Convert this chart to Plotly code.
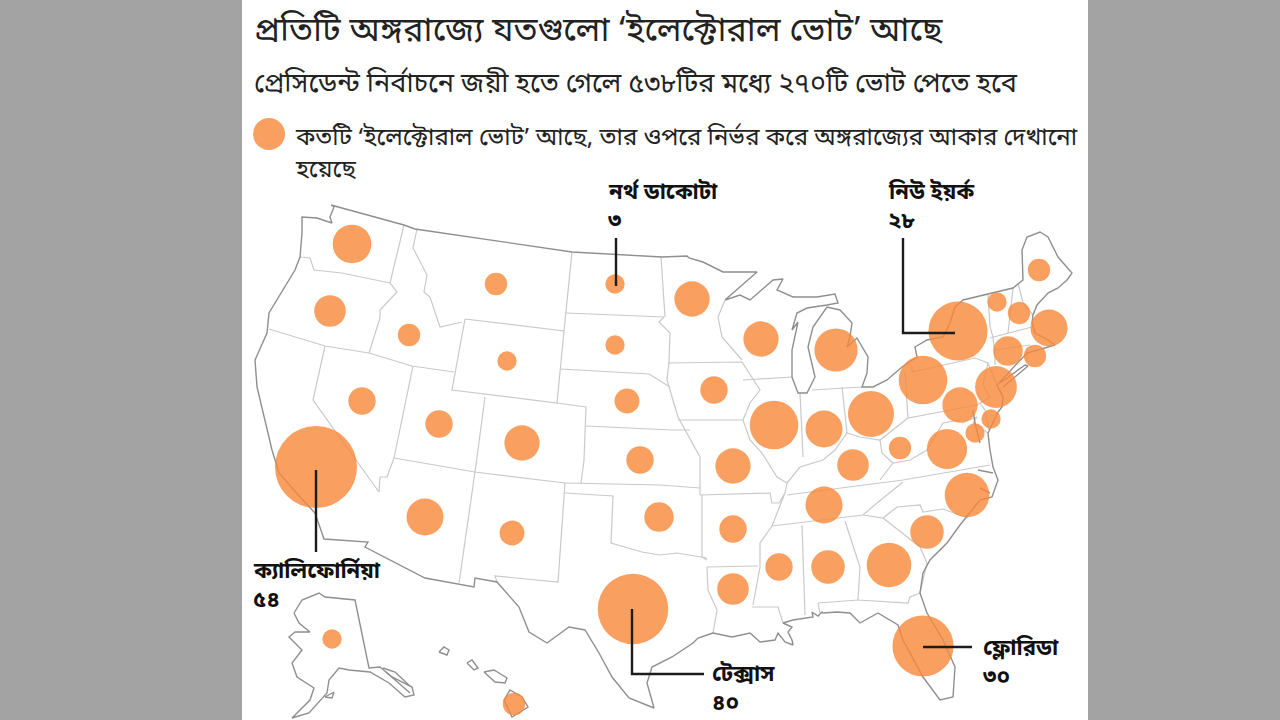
import plotly.graph_objects as go

title = "প্রতিটি অঙ্গরাজ্যে যতগুলো ‘ইলেক্টোরাল ভোট’ আছে"
subtitle = "প্রেসিডেন্ট নির্বাচনে জয়ী হতে গেলে ৫৩৮টির মধ্যে ২৭০টি ভোট পেতে হবে"
legend_text = "কতটি ‘ইলেক্টোরাল ভোট’ আছে, তার ওপরে নির্ভর করে অঙ্গরাজ্যের আকার দেখানো"
legend_text2 = "হয়েছে"

# state, electoral votes, centre of the circle on the page
states = ["WA", "OR", "ID", "MT", "WY", "ND", "SD", "MN", "WI", "MI", "IA", "NE", "NV", "CA", "UT", "CO", "KS",
          "AZ", "NM", "OK", "TX", "MO", "AR", "LA", "IL", "IN", "OH", "KY", "WV", "TN", "VA", "NC", "SC", "GA",
          "AL", "MS", "FL", "PA", "NY", "ME", "VT", "NH", "MA", "CT", "RI", "NJ", "DE", "MD", "DC", "HI", "AK"]
votes = [12, 8, 4, 4, 3, 3, 3, 10, 10, 15, 6, 5, 6, 54, 6, 10, 6,
         11, 5, 7, 40, 10, 6, 8, 19, 11, 17, 8, 4, 11, 13, 16, 9, 16,
         9, 6, 30, 19, 28, 4, 3, 4, 11, 7, 4, 14, 3, 10, 3, 4, 3]
state_x = [352, 330, 409, 496, 507, 615, 615, 692, 761, 836, 714, 627, 362, 316, 439, 522, 640,
           425, 512, 659, 633, 733, 733, 733, 774, 824, 871, 853, 900, 824, 947, 967, 927, 889,
           828, 779, 923, 923, 958, 1039, 997, 1019, 1049, 1008, 1035, 996, 991, 960, 975, 514, 332]
state_y = [244, 311, 335, 284, 361, 284, 345, 299, 339, 350, 390, 401, 401, 467, 424, 443, 460,
           517, 533, 517, 609, 466, 529, 589, 425, 429, 414, 465, 448, 505, 449, 495, 532, 565,
           567, 567, 646, 380, 331, 270, 302, 313, 328, 351, 356, 387, 419, 405, 433, 704, 639]

# coast and national border
outline = [(331, 205), (404, 225), (415, 229), (572, 252), (662, 257), (687, 256), (689, 258), (703, 262), (723, 272),
           (757, 272), (725, 300), (740, 295), (750, 300), (773, 280), (783, 279), (777, 290), (793, 297), (817, 297),
           (835, 294), (838, 303), (827, 305), (807, 308), (797, 313), (792, 330), (798, 322), (792, 350), (792, 377),
           (798, 393), (807, 393), (815, 377), (808, 347), (813, 327), (827, 307), (840, 310), (852, 323), (850, 337),
           (847, 347), (857, 338), (868, 357), (867, 373), (862, 387), (873, 387), (887, 380), (902, 367), (917, 357),
           (915, 347), (927, 340), (943, 337), (950, 323), (955, 307), (963, 300), (1013, 288), (1023, 280),
           (1022, 250), (1027, 237), (1040, 232), (1048, 237), (1058, 257), (1072, 273), (1067, 280), (1058, 288),
           (1048, 293), (1037, 305), (1033, 315), (1032, 323), (1035, 333), (1048, 340), (1055, 345), (1027, 353),
           (997, 385), (1003, 397), (1002, 407), (998, 412), (988, 433), (990, 450), (993, 467), (998, 480),
           (992, 497), (980, 500), (972, 510), (960, 525), (947, 543), (930, 560), (923, 573), (920, 593), (927, 613),
           (943, 640), (955, 667), (953, 697), (940, 700), (923, 677), (903, 640), (898, 625), (878, 613), (860, 623),
           (850, 613), (837, 612), (823, 613), (822, 612), (818, 616), (812, 612), (813, 617), (793, 620), (783, 623),
           (792, 627), (788, 632), (792, 640), (793, 645), (785, 642), (778, 633), (775, 640), (760, 642), (750, 633),
           (732, 637), (713, 633), (698, 638), (693, 643), (672, 657), (652, 667), (647, 683), (654, 708), (629, 698),
           (612, 677), (599, 653), (585, 630), (569, 627), (547, 643), (529, 632), (519, 607), (497, 582), (475, 578),
           (474, 587), (425, 578), (365, 547), (368, 542), (324, 539), (315, 513), (300, 497), (279, 473), (272, 450),
           (262, 407), (257, 387), (255, 360), (267, 333), (269, 313), (279, 297), (295, 270), (300, 257), (302, 233),
           (302, 217), (317, 218), (332, 223), (330, 217), (334, 207), (331, 205)]
long_island = [(1000, 383), (1025, 365), (1028, 366), (1003, 387)]
chesapeake = [(973, 410), (975, 423), (980, 443)]
pamlico = [[(978, 470), (993, 473)], [(980, 488), (990, 493)]]
alaska = [(294, 613), (302, 600), (319, 593), (325, 597), (355, 600), (369, 668), (380, 667), (392, 677), (412, 687),
          (414, 695), (405, 697), (389, 683), (370, 672), (349, 670), (339, 668), (329, 680), (327, 693), (309, 713),
          (292, 718), (310, 700), (314, 688), (297, 677), (292, 663), (302, 650), (289, 637), (295, 632), (310, 632),
          (299, 623), (294, 613)]
alaska_islands = [[(383, 668), (395, 672), (410, 686)], [(386, 672), (400, 684), (410, 693)],
                  [(325, 697), (334, 692), (332, 698), (325, 697)]]
kauai = [(439, 652), (444, 647), (449, 650), (447, 655), (439, 652)]
oahu = [(467, 663), (472, 660), (478, 668), (474, 670), (467, 663)]
maui = [(484, 672), (494, 670), (507, 678), (505, 683), (495, 682), (484, 672)]
big_island = [(504, 700), (510, 690), (522, 697), (528, 707), (512, 717), (504, 700)]
dark_lines = [outline, long_island, chesapeake, alaska, kauai, oahu, maui, big_island] + pamlico + alaska_islands

# state borders
borders = [
    [(300, 257), (310, 258), (314, 270), (342, 273), (390, 283)],
    [(404, 225), (390, 283), (397, 292), (380, 310), (380, 318), (369, 353)],
    [(269, 329), (325, 346), (369, 353), (412, 366), (454, 372)],
    [(325, 346), (313, 400), (379, 492)],
    [(413, 366), (394, 458)],
    [(379, 492), (380, 477), (387, 477), (394, 458)],
    [(417, 229), (413, 248), (427, 275), (424, 292), (430, 297), (440, 327), (462, 322)],
    [(465, 319), (564, 331), (557, 403), (452, 390), (465, 319)],
    [(572, 252), (566, 313), (564, 331)],
    [(566, 313), (664, 317)],
    [(661, 257), (665, 317)],
    [(561, 369), (649, 374), (670, 387)],
    [(664, 317), (659, 322), (670, 333), (669, 362), (667, 380), (678, 417), (700, 457), (700, 495)],
    [(557, 403), (586, 407), (584, 460), (581, 483)],
    [(586, 426), (672, 430), (690, 430)],
    [(485, 397), (475, 472)],
    [(394, 458), (475, 472), (565, 483)],
    [(565, 483), (660, 485), (700, 488)],
    [(565, 493), (613, 496), (611, 543), (642, 552), (660, 555), (677, 553), (707, 558)],
    [(565, 483), (558, 582), (495, 576), (497, 582)],
    [(475, 472), (459, 583)],
    [(725, 300), (718, 317), (722, 337), (742, 360)],
    [(668, 363), (742, 362), (760, 390), (750, 403), (743, 420)],
    [(678, 420), (743, 420), (750, 440), (762, 453), (777, 477), (787, 483), (785, 493)],
    [(743, 380), (792, 377)],
    [(800, 393), (803, 457)],
    [(812, 390), (862, 387)],
    [(842, 387), (847, 433)],
    [(700, 495), (770, 493), (772, 503), (779, 503), (785, 493), (772, 526), (760, 543), (760, 567), (753, 605)],
    [(787, 483), (800, 467), (823, 460), (835, 450), (847, 433), (860, 437), (880, 440), (905, 420), (908, 418)],
    [(905, 372), (908, 418), (977, 405)],
    [(912, 367), (912, 372), (975, 358), (988, 363), (997, 385)],
    [(988, 363), (983, 385), (990, 397), (977, 405)],
    [(880, 440), (882, 453), (893, 463), (910, 460), (927, 450), (943, 423), (960, 420)],
    [(880, 480), (893, 463)],
    [(787, 495), (903, 480), (990, 465)],
    [(772, 526), (863, 515), (877, 503), (903, 482)],
    [(863, 515), (883, 518), (897, 507), (920, 505), (923, 512), (943, 509), (968, 518)],
    [(883, 518), (920, 547), (927, 563), (920, 593)],
    [(845, 521), (860, 567), (858, 600), (908, 603), (910, 597), (920, 593)],
    [(818, 603), (858, 600)],
    [(818, 603), (820, 613)],
    [(802, 525), (805, 615)],
    [(752, 607), (778, 607), (783, 623)],
    [(707, 567), (758, 566)],
    [(702, 495), (702, 557), (707, 560)],
    [(707, 567), (708, 590), (717, 610), (713, 633)],
    [(988, 295), (990, 327), (993, 337), (995, 357), (995, 365)],
    [(990, 338), (1032, 327)],
    [(995, 350), (1030, 345)],
    [(1013, 288), (1008, 333)],
    [(1018, 283), (1023, 303), (1033, 315)],
    [(1027, 347), (1027, 360)],
    [(980, 403), (985, 410), (989, 430)],
    [(962, 423), (977, 417), (973, 423), (988, 433)],
]

callout_names = ["নর্থ ডাকোটা", "নিউ ইয়র্ক", "ক্যালিফোর্নিয়া", "টেক্সাস", "ফ্লোরিডা"]
callout_votes = ["৩", "২৮", "৫৪", "৪০", "৩০"]
callout_x = [606, 886, 251, 710, 981]
callout_y = [193, 193, 572, 675, 649]
leaders = [
    [(616, 238), (616, 286)],
    [(903, 238), (903, 333), (955, 333)],
    [(316, 470), (316, 552)],
    [(632, 609), (632, 674), (704, 674)],
    [(923, 647), (972, 647)],
]


def flatten(lines):
    xs, ys = [], []
    for line in lines:
        xs += [p[0] for p in line] + [None]
        ys += [p[1] for p in line] + [None]
    return xs, ys


font = "Noto Sans Bengali, Noto Serif Bengali, Lohit Bengali, Noto Sans, sans-serif"
orange = "rgba(247,135,55,0.8)"

fig = go.Figure()

x, y = flatten(borders)
fig.add_trace(go.Scatter(x=x, y=y, mode="lines", line=dict(color="#c9c9c9", width=1.2), hoverinfo="skip"))
x, y = flatten(dark_lines)
fig.add_trace(go.Scatter(x=x, y=y, mode="lines", line=dict(color="#8f8f8f", width=1.4), hoverinfo="skip"))

fig.add_trace(go.Scatter(x=state_x, y=state_y, mode="markers", text=states, customdata=votes,
                         marker=dict(size=votes, sizemode="area", sizeref=0.01606, opacity=1, color=orange,
                                     line=dict(width=0)),
                         hovertemplate="%{text}: %{customdata}<extra></extra>"))
# legend dot
fig.add_trace(go.Scatter(x=[269], y=[134], mode="markers", marker=dict(size=32, color=orange, line=dict(width=0)),
                         hoverinfo="skip"))

x, y = flatten(leaders)
fig.add_trace(go.Scatter(x=x, y=y, mode="lines", line=dict(color="#1c1c1c", width=2.4), hoverinfo="skip"))

fig.add_shape(type="rect", x0=242, x1=1088, y0=0, y1=720, fillcolor="white", line_width=0, layer="below")


def label(text, x, y, size, color="#222222"):
    fig.add_annotation(x=x, y=y, text=text, showarrow=False, xanchor="left", yanchor="middle",
                       font=dict(family=font, size=size, color=color))


label(title, 252, 32, 34)
label(subtitle, 252, 84, 27)
label(legend_text, 293, 138, 24)
label(legend_text2, 293, 171, 24)
for i in range(len(callout_names)):
    label("<b>" + callout_names[i] + "</b>", callout_x[i], callout_y[i], 22, "#111111")
    label("<b>" + callout_votes[i] + "</b>", callout_x[i], callout_y[i] + 29, 22, "#111111")

fig.update_xaxes(range=[0, 1280], visible=False, fixedrange=True)
fig.update_yaxes(range=[720, 0], visible=False, fixedrange=True)
fig.update_layout(width=1280, height=720, margin=dict(l=0, r=0, t=0, b=0), showlegend=False,
                  paper_bgcolor="#a3a3a3", plot_bgcolor="#a3a3a3")

fig.write_html("out.html", config=dict(displayModeBar=False),
               post_script="document.body.style.margin='0';")
